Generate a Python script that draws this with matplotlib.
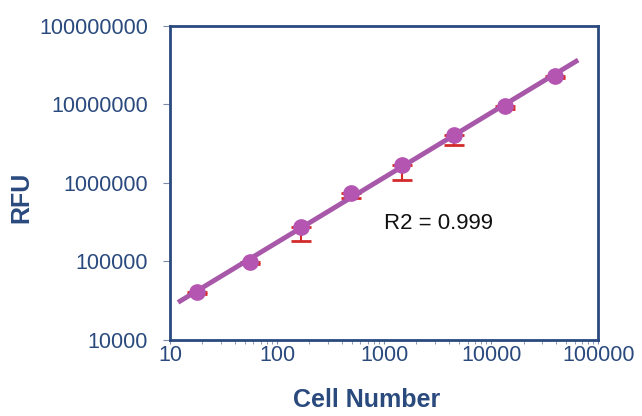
import numpy as np
import matplotlib.pyplot as plt

# values
cell_number = [18, 56, 167, 490, 1460, 4500, 13300, 39000]
rfu = [41000, 99000, 272000, 740000, 1700000, 4100000, 9400000, 23000000]
rfu_err_low = [3000, 6000, 88000, 90000, 610000, 1100000, 700000, 1500000]

x_ticks = [10, 100, 1000, 10000, 100000]
y_ticks = [10000, 100000, 1000000, 10000000, 100000000]

navy = '#2a4a7e'
purple = '#b455b2'

plt.rcParams['font.family'] = ['Liberation Sans', 'DejaVu Sans']

fig = plt.figure(figsize=(6.42, 4.16), dpi=100)
ax = fig.add_axes([0.265, 0.183, 0.667, 0.755])

ax.set_xscale('log')
ax.set_yscale('log')
ax.set_xlim(10, 100000)
ax.set_ylim(10000, 100000000)

# fitted line in log-log space
slope, intercept = np.polyfit(np.log10(cell_number), np.log10(rfu), 1)
fit_x = np.array([12.4, 62000])
fit_y = 10 ** (intercept + slope * np.log10(fit_x))
ax.plot(fit_x, fit_y, color='#a858a8', lw=3.5, zorder=2)

# lower error bars only
ax.errorbar(cell_number, rfu, yerr=[rfu_err_low, [0] * len(rfu)], fmt='none',
            ecolor='#d42a2a', elinewidth=1.5, capsize=7, capthick=2, zorder=1)
ax.plot(cell_number, rfu, 'o', color=purple, markersize=11, zorder=3)

ax.text(1000, 300000, 'R2 = 0.999', fontsize=16, color='#111111', va='center')

ax.set_xticks(x_ticks)
ax.set_xticklabels([str(v) for v in x_ticks])
ax.set_yticks(y_ticks)
ax.set_yticklabels([str(v) for v in y_ticks])
ax.tick_params(axis='both', labelsize=15.5, labelcolor=navy, color='#7a8aa8',
               direction='out', length=5)
ax.tick_params(axis='y', which='minor', left=False)
ax.tick_params(axis='y', pad=11)
ax.tick_params(axis='x', which='minor', length=3, color='#7a8aa8')
ax.tick_params(axis='x', which='major', length=3, pad=1)

for s in ax.spines.values():
    s.set_color(navy)
    s.set_linewidth(2)

ax.set_xlabel('Cell Number', fontsize=18, fontweight='bold', color=navy)
ax.set_ylabel('RFU', fontsize=18, fontweight='bold', color=navy)
ax.xaxis.set_label_coords(0.458, -0.153)
ax.yaxis.set_label_coords(-0.32, 0.455)

fig.savefig('out.png', dpi=100)
